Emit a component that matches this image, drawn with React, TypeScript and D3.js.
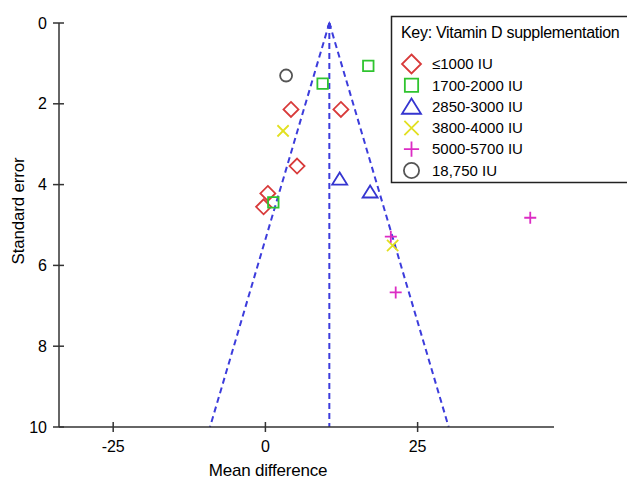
import React, { useEffect, useRef } from "react";
import * as d3 from "d3";

// studies per vitamin D dose group: [mean difference, standard error]
const doseLabels = ["≤1000 IU", "1700-2000 IU", "2850-3000 IU", "3800-4000 IU", "5000-5700 IU", "18,750 IU"];
const group1000: [number, number][] = [[4.2, 2.14], [12.4, 2.14], [5.2, 3.54], [0.4, 4.22], [-0.3, 4.55]];
const group2000: [number, number][] = [[9.4, 1.5], [16.9, 1.06], [1.3, 4.44]];
const group3000: [number, number][] = [[12.2, 3.86], [17.2, 4.18]];
const group4000: [number, number][] = [[2.9, 2.67], [20.9, 5.51]];
const group5700: [number, number][] = [[43.5, 4.82], [20.6, 5.29], [21.4, 6.67]];
const group18750: [number, number][] = [[3.4, 1.3]];
const pooledMean = 10.5;
const xTicks = [-25, 0, 25];
const yTicks = [0, 2, 4, 6, 8, 10];

const groupStyles = [
  { shape: "diamond", color: "#d83a3a" },
  { shape: "square", color: "#2fc42f" },
  { shape: "triangle", color: "#3535d0" },
  { shape: "cross", color: "#e2e020" },
  { shape: "plus", color: "#dc2cc4" },
  { shape: "circle", color: "#555555" },
];

function markerPath(shape: string, s: number) {
  // s = half size
  switch (shape) {
    case "diamond":
      return `M0,${-s}L${s},0L0,${s}L${-s},0Z`;
    case "square":
      return `M${-s * 0.7},${-s * 0.7}H${s * 0.7}V${s * 0.7}H${-s * 0.7}Z`;
    case "triangle":
      return `M0,${-s * 0.85}L${s},${s * 0.75}L${-s},${s * 0.75}Z`;
    case "cross":
      return `M${-s * 0.75},${-s * 0.75}L${s * 0.75},${s * 0.75}M${s * 0.75},${-s * 0.75}L${-s * 0.75},${s * 0.75}`;
    case "plus":
      return `M${-s * 0.8},0H${s * 0.8}M0,${-s * 0.8}V${s * 0.8}`;
    default:
      return `M${s * 0.8},0A${s * 0.8},${s * 0.8} 0 1,1 ${-s * 0.8},0A${s * 0.8},${s * 0.8} 0 1,1 ${s * 0.8},0Z`;
  }
}

export default function App() {
  const ref = useRef<SVGSVGElement>(null);

  useEffect(() => {
    const svg = d3.select(ref.current);
    svg.selectAll("*").remove();

    const x = d3.scaleLinear().domain([-33.9, 47.4]).range([59, 554]);
    const y = d3.scaleLinear().domain([0, 10]).range([23, 427]);
    const font = "'Liberation Sans', Arial, sans-serif";
    const axisColor = "#333";

    // funnel
    const funnel = svg.append("g").attr("stroke", "#3c3cdc").attr("stroke-width", 2)
      .attr("stroke-dasharray", "6,4").attr("fill", "none");
    funnel.append("line").attr("x1", x(pooledMean)).attr("y1", y(0))
      .attr("x2", x(pooledMean - 1.96 * 10)).attr("y2", y(10));
    funnel.append("line").attr("x1", x(pooledMean)).attr("y1", y(0))
      .attr("x2", x(pooledMean + 1.96 * 10)).attr("y2", y(10));
    funnel.append("line").attr("x1", x(pooledMean)).attr("y1", y(0))
      .attr("x2", x(pooledMean)).attr("y2", y(10));
    svg.append("path")
      .attr("d", `M${x(pooledMean)},${y(0) - 2}l-2.5,6h5Z`)
      .attr("fill", "#3c3cdc");

    // axes
    const ax = svg.append("g").attr("stroke", axisColor).attr("stroke-width", 1.5);
    ax.append("line").attr("x1", x.range()[0]).attr("x2", x.range()[1]).attr("y1", y(10)).attr("y2", y(10));
    ax.append("line").attr("x1", x.range()[0]).attr("x2", x.range()[0]).attr("y1", y(0)).attr("y2", y(10));
    xTicks.forEach(t => {
      ax.append("line").attr("x1", x(t)).attr("x2", x(t)).attr("y1", y(10) - 5).attr("y2", y(10) + 5);
    });
    yTicks.forEach(t => {
      ax.append("line").attr("x1", x.range()[0] - 6).attr("x2", x.range()[0] + 5).attr("y1", y(t)).attr("y2", y(t));
    });

    svg.append("g").selectAll("text").data(xTicks).enter().append("text")
      .attr("x", d => x(d)).attr("y", 452)
      .attr("text-anchor", "middle").attr("font-family", font).attr("font-size", 16)
      .text(d => d);
    svg.append("g").selectAll("text").data(yTicks).enter().append("text")
      .attr("x", 47).attr("y", d => y(d)).attr("dy", "0.35em")
      .attr("text-anchor", "end").attr("font-family", font).attr("font-size", 16)
      .text(d => d);

    svg.append("text").attr("x", 268).attr("y", 476).attr("text-anchor", "middle")
      .attr("font-family", font).attr("font-size", 17).attr("letter-spacing", -0.2)
      .text("Mean difference");
    svg.append("text").attr("transform", "translate(24,211) rotate(-90)").attr("text-anchor", "middle")
      .attr("font-family", font).attr("font-size", 17).attr("letter-spacing", -0.2)
      .text("Standard error");

    // points
    const groups = [group1000, group2000, group3000, group4000, group5700, group18750];
    groups.forEach((pts, i) => {
      const st = groupStyles[i];
      svg.append("g").selectAll("path").data(pts).enter().append("path")
        .attr("transform", d => `translate(${x(d[0])},${y(d[1])})`)
        .attr("d", markerPath(st.shape, 7.5))
        .attr("fill", "none").attr("stroke", st.color).attr("stroke-width", 1.8);
    });

    // legend
    const lg = svg.append("g");
    lg.append("rect").attr("x", 391.5).attr("y", 16.5).attr("width", 250).attr("height", 166)
      .attr("fill", "white").attr("stroke", "#222").attr("stroke-width", 1.5);
    lg.append("text").attr("x", 401).attr("y", 38).attr("font-family", font).attr("font-size", 16)
      .attr("letter-spacing", -0.3).text("Key: Vitamin D supplementation");
    doseLabels.forEach((lab, i) => {
      const cy = 64 + i * 21.3;
      const st = groupStyles[i];
      lg.append("path").attr("transform", `translate(411.5,${cy})`)
        .attr("d", markerPath(st.shape, 9.5))
        .attr("fill", "none").attr("stroke", st.color).attr("stroke-width", 1.8);
      lg.append("text").attr("x", 432).attr("y", cy).attr("dy", "0.35em")
        .attr("font-family", font).attr("font-size", 15).text(lab);
    });
  }, []);

  return (
    <svg ref={ref} width={627} height={480}
      style={{ position: "absolute", left: 0, top: 0, background: "white" }} />
  );
}
